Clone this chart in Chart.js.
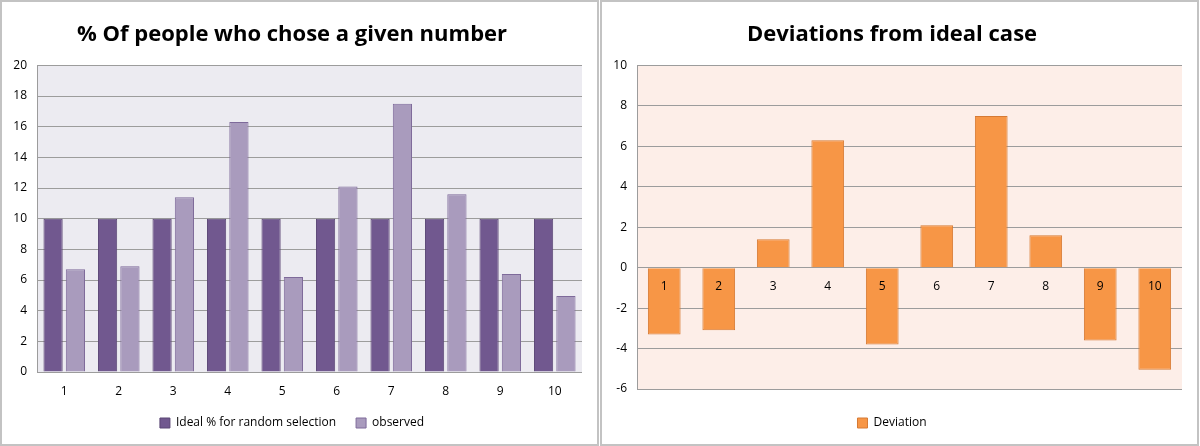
<!DOCTYPE html>
<html>
<head>
<meta charset="utf-8">
<script src="https://cdn.jsdelivr.net/npm/chart.js@4.4.1/dist/chart.umd.min.js"></script>
<style>
  html, body { margin: 0; padding: 0; background: #fff; }
  .panel { position: absolute; top: 0; width: 599px; height: 446px; box-sizing: border-box; border: 2px solid #c3c3c3; background: #fff; }
  #p-left { left: 0; }
  #p-right { left: 600px; }
  .panel canvas { display: block; }
</style>
</head>
<body>
<div class="panel" id="p-left"><canvas id="chart-left" width="595" height="442"></canvas></div>
<div class="panel" id="p-right"><canvas id="chart-right" width="595" height="442"></canvas></div>
<script>
const numbers = ['1', '2', '3', '4', '5', '6', '7', '8', '9', '10'];
const idealPct = [10, 10, 10, 10, 10, 10, 10, 10, 10, 10];
const observedPct = [6.7, 6.9, 11.4, 16.3, 6.2, 12.1, 17.5, 11.6, 6.4, 4.95];
const deviation = [-3.3, -3.1, 1.4, 6.3, -3.8, 2.1, 7.5, 1.6, -3.6, -5.05];

const FONT = 'Open Sans';

// fills the plot area with a flat tint
const plotBg = {
  id: 'plotBg',
  beforeDraw(chart, args, opts) {
    const { ctx, chartArea: a } = chart;
    ctx.save();
    ctx.fillStyle = opts.color;
    ctx.fillRect(a.left, a.top, a.right - a.left, a.bottom - a.top);
    ctx.restore();
  },
};

function baseOptions(title, bg, legendPad) {
  return {
    responsive: false,
    animation: false,
    layout: { padding: { left: 0, right: 15, bottom: 5 } },
    plugins: {
      plotBg: { color: bg },
      title: {
        display: true,
        text: title,
        color: '#000',
        font: { family: FONT, size: 22, weight: 'bold' },
        padding: { top: 20, bottom: 17 },
      },
      legend: {
        position: 'bottom',
        labels: {
          color: '#000',
          font: { family: FONT, size: 12 },
          boxWidth: 10, boxHeight: 10,
          padding: legendPad,
        },
      },
      tooltip: { enabled: false },
    },
  };
}

function yAxis(min, max) {
  return {
    min, max,
    afterFit: s => { s.width = 35; },
    grid: { color: '#9c9c9c', drawTicks: false },
    border: { display: true, color: '#9c9c9c' },
    ticks: { stepSize: 2, padding: 10, color: '#000', font: { family: FONT, size: 12 } },
  };
}

function initCharts() {
  const leftOpts = baseOptions('% Of people who chose a given number', '#ecebf1', 20);
  leftOpts.datasets = { bar: { categoryPercentage: 0.82, barPercentage: 0.86 } };
  leftOpts.scales = {
    x: {
      afterFit: s => { s.height = 25; },
      grid: { display: false, drawTicks: false },
      border: { display: false },
      ticks: { padding: 12, color: '#000', font: { family: FONT, size: 12 } },
    },
    y: yAxis(0, 20),
  };

  new Chart(document.getElementById('chart-left'), {
    type: 'bar',
    data: {
      labels: numbers,
      datasets: [
        {
          label: 'Ideal % for random selection',
          data: idealPct,
          backgroundColor: '#71588f',
          borderColor: '#5a4675',
          borderWidth: 1,
        },
        {
          label: 'observed',
          data: observedPct,
          backgroundColor: '#a99bbd',
          borderColor: '#7e6a9a',
          borderWidth: 1,
        },
      ],
    },
    options: leftOpts,
    plugins: [plotBg],
  });

  const rightOpts = baseOptions('Deviations from ideal case', '#fdeee8', 28);
  rightOpts.datasets = { bar: { categoryPercentage: 0.6, barPercentage: 1 } };
  rightOpts.scales = {
    x: {
      position: { y: 0 },
      grid: { display: false, drawTicks: false },
      border: { display: false },
      ticks: { z: 1, padding: 12, color: '#000', font: { family: FONT, size: 12 } },
    },
    y: yAxis(-6, 10),
  };

  new Chart(document.getElementById('chart-right'), {
    type: 'bar',
    data: {
      labels: numbers,
      datasets: [{
        label: 'Deviation',
        data: deviation,
        backgroundColor: '#f79646',
        borderColor: '#d67a34',
        borderWidth: 1,
      }],
    },
    options: rightOpts,
    plugins: [plotBg],
  });
}

document.addEventListener('DOMContentLoaded', initCharts);
</script>
</body>
</html>
